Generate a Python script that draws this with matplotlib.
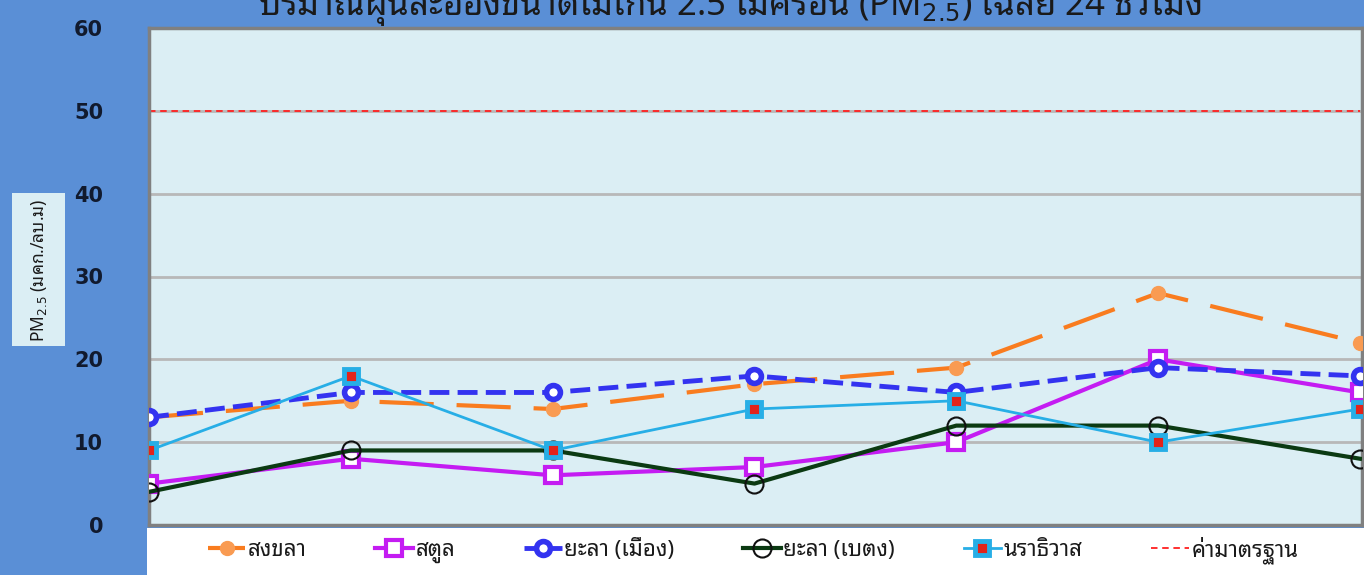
import matplotlib
matplotlib.use("Agg")
import matplotlib.pyplot as plt
from matplotlib.patches import Rectangle

# 24-hour average PM2.5, seven measurement days (no x labels on the source chart)
days = [0, 1, 2, 3, 4, 5, 6]
songkhla = [13, 15, 14, 17, 19, 28, 22]
satun = [5, 8, 6, 7, 10, 20, 16]
yala_muang = [13, 16, 16, 18, 16, 19, 18]
yala_betong = [4, 9, 9, 5, 12, 12, 8]
narathiwat = [9, 18, 9, 14, 15, 10, 14]
standard = [50, 50, 50, 50, 50, 50, 50]
yticks = [0, 10, 20, 30, 40, 50, 60]

THAI = ["Noto Sans Thai Looped", "DejaVu Sans"]
BG = "#5a8fd6"
PLOT_BG = "#dbeef4"
INK = "#111a2e"

fig = plt.figure(figsize=(13.64, 5.75), dpi=100, facecolor=BG)
W, H = 1364, 575
ax = fig.add_axes([149 / W, 1 - 525 / H, (1362 - 149) / W, (525 - 28) / H])
ax.set_facecolor(PLOT_BG)

ax.plot(days, songkhla, color="#f97c1f", lw=3, dashes=(13, 5.5), marker="o", ms=10,
        mfc="#f99b52", mec="#f99b52", label="สงขลา", zorder=3)
ax.plot(days, satun, color="#c41cf2", lw=3, marker="s", ms=11, mfc="white",
        mec="#c41cf2", mew=3, label="สตูล", zorder=4)
ax.plot(days, yala_muang, color="#3333f0", lw=3.5, dashes=(4.1, 1.7), marker="o", ms=10,
        mfc="white", mec="#3333f0", mew=4, label="ยะลา (เมือง)", zorder=5)
ax.plot(days, yala_betong, color="#0b3a12", lw=3, marker="o", ms=13, mfc="none",
        mec="#111111", mew=1.5, label="ยะลา (เบตง)", zorder=6)
ax.plot(days, narathiwat, color="#27aee6", lw=2, marker="s", ms=10, mfc="#e2231a",
        mec="#27aee6", mew=3.5, label="นราธิวาส", zorder=7)
ax.plot(days, standard, color="#ff2020", lw=1.3, dashes=(3.6, 2.6), label="ค่ามาตรฐาน", zorder=2)

ax.set_xlim(0, 6.01)
ax.set_ylim(0, 60)
ax.set_xticks([])
ax.set_yticks(yticks)
ax.tick_params(axis="y", length=0, pad=33, labelsize=15, labelcolor=INK)
for t in ax.get_yticklabels():
    t.set_fontweight("bold")
ax.grid(axis="y", color="#b8b8b8", lw=2, zorder=1)
for s in ax.spines.values():
    s.set_color("#808080")
    s.set_linewidth(2.5)

# y-axis label in its own light box
fig.patches.append(Rectangle((12 / W, 1 - 346 / H), 53 / W, 153 / H,
                             transform=fig.transFigure, facecolor=PLOT_BG, edgecolor="none"))
fig.text(39 / W, 1 - 270 / H, "PM$_{2.5}$ (มคก./ลบ.ม)", rotation=90, ha="center",
         va="center", fontsize=12.5, color="#1a1a1a", family=THAI)

# title, cut off at the top edge like the source
fig.text(730 / W, 1 - 15 / H, "ปริมาณฝุ่นละอองขนาดไม่เกิน 2.5 ไมครอน (PM$_{2.5}$) เฉลี่ย 24 ชั่วโมง",
         ha="center", va="baseline", fontsize=25, fontweight="bold", color="#1a1a1a",
         family=THAI)

# white legend strip below the plot
fig.patches.append(Rectangle((147 / W, 0), (W - 147) / W, (575 - 528) / H,
                             transform=fig.transFigure, facecolor="white", edgecolor="none"))
leg = fig.legend(loc="center", bbox_to_anchor=(753 / W, 25 / H), ncol=6, frameon=False,
                 handlelength=1.7, handletextpad=0.1, columnspacing=3.1,
                 prop={"family": THAI, "size": 16, "weight": "bold"})
for t in leg.get_texts():
    t.set_color("#1a1a1a")

fig.savefig("out.png", dpi=100, facecolor=BG)
